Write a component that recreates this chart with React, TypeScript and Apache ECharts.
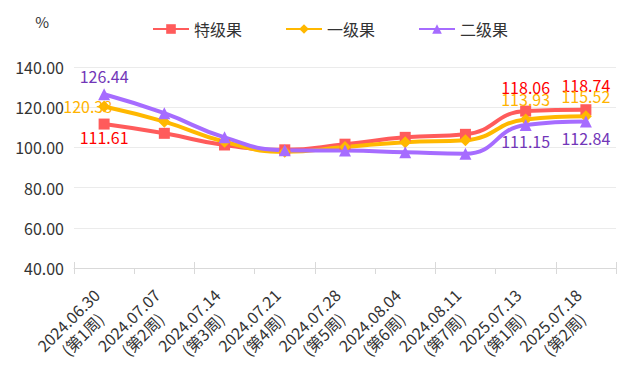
import React, { useEffect, useRef } from "react";
import * as echarts from "echarts";

const categories = [
  "2024.06.30\n(第1周)",
  "2024.07.07\n(第2周)",
  "2024.07.14\n(第3周)",
  "2024.07.21\n(第4周)",
  "2024.07.28\n(第5周)",
  "2024.08.04\n(第6周)",
  "2024.08.11\n(第7周)",
  "2025.07.13\n(第1周)",
  "2025.07.18\n(第2周)",
];
const specialGrade = [111.61, 107.0, 101.2, 98.8, 101.6, 105.0, 106.5, 118.06, 118.74];
const firstGrade = [120.38, 112.8, 102.8, 97.8, 100.2, 102.6, 103.6, 113.93, 115.52];
const secondGrade = [126.44, 117.0, 105.0, 98.6, 98.4, 97.6, 96.8, 111.15, 112.84];
const labeledIdx = [0, 7, 8];
const yTicks = { min: 40, max: 140, interval: 20 };

const FONT = "'Noto Sans CJK SC', 'Noto Sans', sans-serif";

function withLabels(values: number[], firstLabel: any, restLabel: any) {
  return values.map((v, i) => {
    if (!labeledIdx.includes(i)) return { value: v };
    return { value: v, label: { show: true, ...(i === 0 ? firstLabel : restLabel) } };
  });
}

export default function App() {
  const ref = useRef<HTMLDivElement>(null);
  useEffect(() => {
    if (!ref.current) return;
    const chart = echarts.init(ref.current, null, { renderer: "svg" });
    chart.setOption({
      animation: false,
      textStyle: { fontFamily: FONT },
      legend: {
        top: 16,
        left: 147,
        itemWidth: 36,
        itemHeight: 12,
        itemGap: 43,
        textStyle: { fontSize: 16, color: "#333", fontFamily: FONT },
        data: ["特级果", "一级果", "二级果"],
      },
      grid: { left: 74, right: 23, top: 67, bottom: 105 },
      xAxis: [
        {
          type: "category",
          data: categories,
          boundaryGap: true,
          axisLine: { lineStyle: { color: "#d9d9d9" } },
          axisTick: { show: true, length: 6, lineStyle: { color: "#d9d9d9" } },
          axisLabel: {
            rotate: 45,
            interval: 0,
            margin: 30,
            fontSize: 16,
            color: "#333",
            lineHeight: 20,
            fontFamily: FONT,
            formatter: (v: string) => {
              const [a, b] = v.split("\n");
              return `{l|${a}}\n{l|${b}}`;
            },
            rich: {
              l: {
                width: 82,
                align: "center",
                fontSize: 16,
                lineHeight: 20,
                color: "#333",
                fontFamily: FONT,
              },
            },
          },
        },
        {
          type: "category",
          data: categories,
          position: "bottom",
          boundaryGap: true,
          axisLine: { show: false },
          axisTick: { show: true, inside: true, length: 6, lineStyle: { color: "#d9d9d9" } },
          axisLabel: { show: false },
          splitLine: { show: false },
        },
      ],
      yAxis: {
        type: "value",
        min: yTicks.min,
        max: yTicks.max,
        interval: yTicks.interval,
        name: "%",
        nameGap: 38,
        nameTextStyle: { fontSize: 15, color: "#333", align: "right", padding: [0, 25, 0, 0] },
        axisLine: { show: false },
        axisTick: { show: false },
        axisLabel: {
          fontSize: 16,
          margin: 10,
          color: "#333",
          formatter: (v: number) => v.toFixed(2),
          fontFamily: FONT,
        },
        splitLine: { lineStyle: { color: "#ebebeb" } },
      },
      series: [
        {
          name: "特级果",
          type: "line",
          smooth: true,
          symbol: "rect",
          symbolSize: 11,
          itemStyle: { color: "#ff5b5b" },
          lineStyle: { width: 4, color: "#ff5b5b" },
          label: { show: false, fontSize: 16, color: "#ff0000", fontFamily: FONT },
          data: withLabels(
            specialGrade,
            { position: "bottom", distance: -1 },
            { position: "top", distance: 11 }
          ),
        },
        {
          name: "一级果",
          type: "line",
          smooth: true,
          symbol: "diamond",
          symbolSize: 12,
          itemStyle: { color: "#ffb800" },
          lineStyle: { width: 4, color: "#ffb800" },
          label: { show: false, fontSize: 16, color: "#ffb300", fontFamily: FONT },
          data: withLabels(
            firstGrade,
            { position: "left", offset: [14, 0], distance: 0 },
            { position: "top", distance: 6 }
          ),
        },
        {
          name: "二级果",
          type: "line",
          smooth: true,
          symbol: "triangle",
          symbolSize: 12,
          itemStyle: { color: "#a66cff" },
          lineStyle: { width: 4, color: "#a66cff" },
          label: { show: false, fontSize: 16, color: "#7236b8", fontFamily: FONT },
          data: withLabels(
            secondGrade,
            { position: "top", distance: 4 },
            { position: "bottom", distance: 2 }
          ),
        },
      ],
    });
    return () => chart.dispose();
  }, []);
  return <div ref={ref} style={{ width: 639, height: 373, margin: -8 }} />;
}
